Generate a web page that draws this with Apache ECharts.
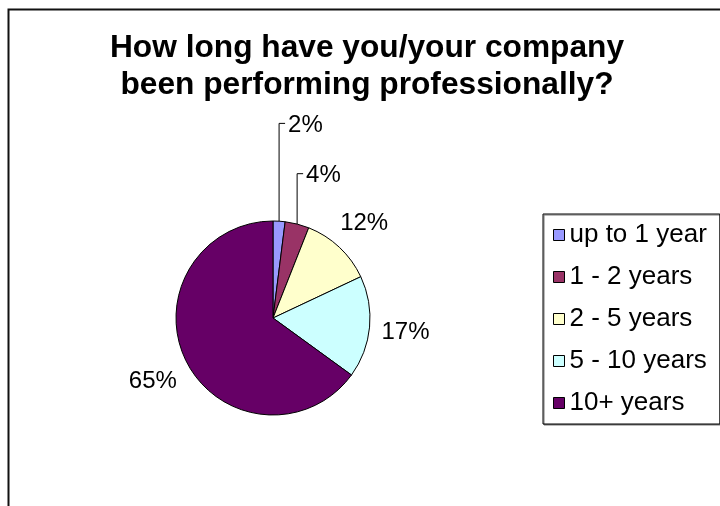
<!DOCTYPE html>
<html>
<head>
<meta charset="utf-8">
<script src="https://cdn.jsdelivr.net/npm/echarts@6/dist/echarts.min.js"></script>
<style>
  html, body { margin: 0; padding: 0; background: #fff; }
  #chart { width: 720px; height: 506px; }
</style>
</head>
<body>
<div id="chart"></div>
<script>
// Survey answers: how long the respondent has been performing professionally
const categories = ['up to 1 year', '1 - 2 years', '2 - 5 years', '5 - 10 years', '10+ years'];
const shares = [2, 4, 12, 17, 65];
const sliceColors = ['#9999FF', '#993366', '#FFFFCC', '#CCFFFF', '#660066'];

const titleLines = ['How long have you/your company', 'been performing professionally?'];

// Thin slices get a vertical leader line up to a label above the pie
const leaderLength = [98, 52, 0, 0, 0];

const FONT = '"Liberation Sans", Arial, sans-serif';

const chart = echarts.init(document.getElementById('chart'), null, { renderer: 'canvas' });

const pieData = categories.map(function (name, i) {
  return {
    name: name,
    value: shares[i],
    itemStyle: { color: sliceColors[i] },
    labelLine: { length: leaderLength[i] || 2, length2: 0 }
  };
});

chart.setOption({
  animation: false,
  backgroundColor: '#fff',
  title: {
    text: titleLines.join('\n'),
    left: 367,
    top: 30,
    padding: 0,
    textAlign: 'center',
    textStyle: {
      fontFamily: FONT,
      fontWeight: 'bold',
      fontSize: 31.7,
      lineHeight: 37,
      color: '#000'
    }
  },
  graphic: [{
    type: 'rect',
    left: 6,
    top: 7,
    silent: true,
    shape: { x: 0, y: 0, width: 760, height: 560 },
    style: { fill: 'none', stroke: '#111', lineWidth: 2 }
  }],
  legend: {
    orient: 'vertical',
    left: 543,
    top: 214,
    padding: [6, 13, 6, 10],
    itemGap: 12,
    itemWidth: 11,
    itemHeight: 11,
    icon: 'rect',
    borderColor: '#000',
    borderWidth: 1,
    backgroundColor: '#fff',
    shadowColor: '#777',
    shadowOffsetX: 1,
    shadowOffsetY: 1,
    shadowBlur: 0,
    itemStyle: { borderColor: '#000', borderWidth: 1 },
    textStyle: {
      fontFamily: FONT,
      fontSize: 26,
      lineHeight: 30,
      color: '#000'
    },
    data: categories
  },
  series: [{
    type: 'pie',
    center: [273, 318],
    radius: 97,
    startAngle: 90,
    clockwise: true,
    avoidLabelOverlap: false,
    itemStyle: { borderColor: '#000', borderWidth: 1 },
    emphasis: { disabled: true },
    label: {
      show: true,
      position: 'outside',
      fontFamily: FONT,
      fontSize: 24,
      color: '#000',
      formatter: function (p) { return p.value + '%'; }
    },
    labelLine: {
      show: true,
      smooth: false,
      lineStyle: { color: '#000', width: 1 }
    },
    labelLayout: function (params) {
      const pts = params.labelLinePoints;
      if (!pts) { return {}; }
      const p0 = pts[0];
      const p1 = pts[1];
      const len = Math.hypot(p1[0] - p0[0], p1[1] - p0[1]) || 1;
      const ux = (p1[0] - p0[0]) / len;
      const uy = (p1[1] - p0[1]) / len;
      if (leaderLength[params.dataIndex] > 0) {
        const top = p1[1];
        return {
          x: p0[0] + 9,
          y: top + 2,
          align: 'left',
          verticalAlign: 'middle',
          labelLinePoints: [[p0[0], p0[1]], [p0[0], top], [p0[0] + 6, top]]
        };
      }
      // Other labels sit just outside the rim, along the slice's mid direction
      const w = params.labelRect.width;
      const h = params.labelRect.height;
      const d = 11 + Math.abs(ux) * w / 2 + Math.abs(uy) * h / 2;
      return {
        x: p0[0] + ux * d,
        y: p0[1] + uy * d + 2,
        align: 'center',
        verticalAlign: 'middle',
        labelLinePoints: [[p0[0], p0[1]], [p0[0], p0[1]], [p0[0], p0[1]]]
      };
    },
    data: pieData
  }]
});
</script>
</body>
</html>
